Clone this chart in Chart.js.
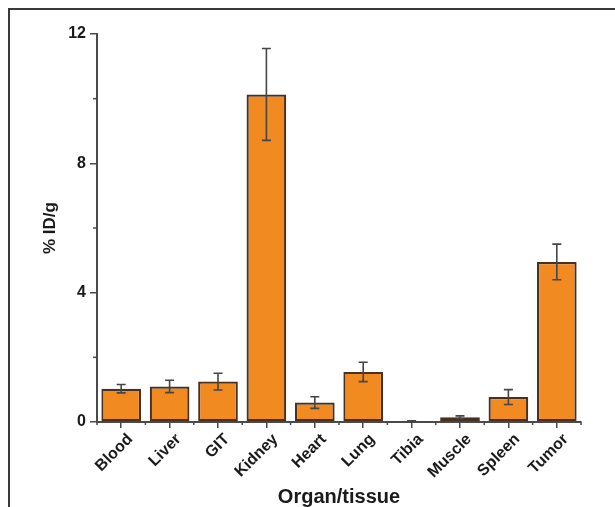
<!DOCTYPE html>
<html>
<head>
<meta charset="utf-8">
<script src="https://cdn.jsdelivr.net/npm/chart.js@4.4.0/dist/chart.umd.min.js"></script>
<style>
  html, body { margin: 0; padding: 0; background: #ffffff; }
  #wrap { width: 615px; height: 507px; position: relative; }
</style>
</head>
<body>
<div id="wrap"><canvas id="c" width="615" height="507"></canvas></div>
<script>
const categories = ['Blood', 'Liver', 'GIT', 'Kidney', 'Heart', 'Lung', 'Tibia', 'Muscle', 'Spleen', 'Tumor'];
const values = [1.03, 1.10, 1.25, 10.13, 0.60, 1.55, 0.03, 0.15, 0.77, 4.95];
const errors = [0.13, 0.19, 0.26, 1.42, 0.18, 0.30, 0.01, 0.04, 0.23, 0.55];
const yTicks = [0, 4, 8, 12];
const yMinorTicks = [2, 6, 10];

const FONT = "'Liberation Sans', Arial, sans-serif";
const AXIS = '#4a4a4a';

const decor = {
  id: 'decor',
  beforeDraw(chart) {
    const ctx = chart.ctx;
    ctx.save();
    ctx.fillStyle = '#ffffff';
    ctx.fillRect(0, 0, chart.width, chart.height);
    ctx.strokeStyle = '#3a3a3a';
    ctx.lineWidth = 2;
    ctx.beginPath();
    ctx.moveTo(9, chart.height);
    ctx.lineTo(9, 9);
    ctx.lineTo(chart.width, 9);
    ctx.stroke();
    ctx.restore();
  },
  afterDraw(chart) {
    const ctx = chart.ctx;
    const y = chart.scales.y, x = chart.scales.x;
    ctx.save();
    ctx.strokeStyle = AXIS;
    ctx.lineWidth = 1.5;
    yMinorTicks.forEach(v => {
      const py = y.getPixelForValue(v);
      ctx.beginPath();
      ctx.moveTo(x.left - 4, py);
      ctx.lineTo(x.left, py);
      ctx.stroke();
    });
    for (let i = 0; i <= categories.length; i++) {
      const px = x.getPixelForValue(i - 0.5);
      ctx.beginPath();
      ctx.moveTo(px, y.bottom);
      ctx.lineTo(px, y.bottom + 3);
      ctx.stroke();
    }
    ctx.restore();
  },
  afterDatasetsDraw(chart) {
    const ctx = chart.ctx;
    const y = chart.scales.y;
    const meta = chart.getDatasetMeta(0);
    ctx.save();
    ctx.strokeStyle = '#454545';
    ctx.lineWidth = 1.6;
    meta.data.forEach((bar, i) => {
      const cx = bar.x;
      const yt = y.getPixelForValue(values[i] + errors[i]);
      const yb = y.getPixelForValue(values[i] - errors[i]);
      const cap = 4.5;
      ctx.beginPath();
      ctx.moveTo(cx, yt); ctx.lineTo(cx, yb);
      ctx.moveTo(cx - cap, yt); ctx.lineTo(cx + cap, yt);
      ctx.moveTo(cx - cap, yb); ctx.lineTo(cx + cap, yb);
      ctx.stroke();
    });
    ctx.restore();
  }
};

new Chart(document.getElementById('c'), {
  type: 'bar',
  data: {
    labels: categories,
    datasets: [{
      data: values,
      backgroundColor: '#F28A22',
      borderColor: '#4a3020',
      borderWidth: 2.2,
      borderSkipped: false,
      barPercentage: 0.82,
      categoryPercentage: 1.0
    }]
  },
  options: {
    responsive: false,
    animation: false,
    devicePixelRatio: 1,
    layout: { padding: { top: 34, right: 34, left: 0, bottom: 0 } },
    plugins: { legend: { display: false }, tooltip: { enabled: false } },
    scales: {
      x: {
        afterFit(s) { s.height = 85; },
        grid: { display: true, offset: false, drawOnChartArea: false, drawTicks: true, tickLength: 6, color: AXIS, lineWidth: 1.5 },
        border: { display: true, color: AXIS, width: 2 },
        ticks: {
          autoSkip: false, minRotation: 45, maxRotation: 45, padding: 2, labelOffset: 9,
          color: '#1a1a1a', font: { family: FONT, size: 16, weight: 'bold' }
        },
        title: {
          display: true, text: 'Organ/tissue', color: '#1a1a1a',
          font: { family: FONT, size: 20, weight: 'bold' }, padding: { top: 0, bottom: -2 }
        }
      },
      y: {
        min: 0, max: 12,
        afterFit(s) { s.width = 97; },
        afterBuildTicks(s) { s.ticks = yTicks.map(v => ({ value: v })); },
        grid: { display: true, drawOnChartArea: false, drawTicks: true, tickLength: 7, color: AXIS, lineWidth: 1.5 },
        border: { display: true, color: AXIS, width: 2 },
        ticks: {
          padding: 4, color: '#1a1a1a',
          font: { family: FONT, size: 16, weight: 'bold' }
        },
        title: {
          display: true, text: '% ID/g', color: '#1a1a1a',
          font: { family: FONT, size: 17, weight: 'bold' }, padding: { top: 40, bottom: 0 }
        }
      }
    }
  },
  plugins: [decor]
});
</script>
</body>
</html>
